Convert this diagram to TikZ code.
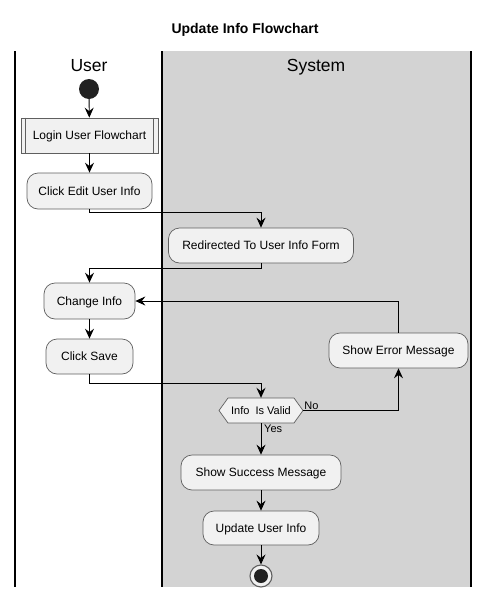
\documentclass[tikz,border=0pt]{standalone}
\usepackage{fontspec}
\setmainfont{Liberation Sans}
\usetikzlibrary{arrows.meta,calc}
\definecolor{boxfill}{HTML}{F1F1F1}
\definecolor{boxline}{HTML}{5F5F5F}
\definecolor{lanegray}{HTML}{D3D3D3}
\definecolor{dotcol}{HTML}{222222}
\begin{document}
\begin{tikzpicture}[x=1pt,y=-1pt,
  actbox/.style={draw=boxline,fill=boxfill,line width=0.7pt,rounded corners=11pt,
    inner sep=0pt,font=\fontsize{12}{14}\selectfont,text height=8.6pt,text depth=0pt},
  subbox/.style={draw=boxline,fill=boxfill,line width=0.7pt,
    inner sep=0pt,font=\fontsize{12}{14}\selectfont,text height=8.6pt,text depth=0pt},
  flow/.style={line width=0.9pt,-{Stealth[length=10pt,width=9pt,inset=3.5pt]}},
  lane/.style={line width=1.6pt},
  lbl/.style={font=\fontsize{11}{13}\selectfont,inner sep=1pt},
  hdr/.style={font=\fontsize{17.5}{20}\selectfont,anchor=base,inner sep=0pt}]
\useasboundingbox (0,0) rectangle (490,598);
% lanes
\fill[lanegray] (162,51) rectangle (471,587);
\draw[lane] (15,51) -- (15,587);
\draw[lane] (162,51) -- (162,587);
\draw[lane] (471,51) -- (471,587);
\node[font=\bfseries\fontsize{14}{16}\selectfont] (title) at (245,30) {Update Info Flowchart};
\node[hdr] (huser) at (89,71) {User};
\node[hdr] (hsys) at (316,71) {System};
% nodes
\node[circle,fill=dotcol,minimum size=20pt,inner sep=0pt] (start) at (89,89) {};
\node[subbox,minimum width=137pt,minimum height=35pt] (login) at (89.5,135.5) {Login User Flowchart};
\draw[boxline,line width=0.7pt] ($(login.north west)+(5,0)$) -- ($(login.south west)+(5,0)$);
\draw[boxline,line width=0.7pt] ($(login.north east)+(-5,0)$) -- ($(login.south east)+(-5,0)$);
\node[actbox,minimum width=125pt,minimum height=36pt] (edit) at (89.5,191) {Click Edit User Info};
\node[actbox,minimum width=185pt,minimum height=35pt] (redirect) at (261,245.5) {Redirected To User Info Form};
\node[actbox,minimum width=91pt,minimum height=36pt] (change) at (89.5,301) {Change Info};
\node[actbox,minimum width=87pt,minimum height=35pt] (save) at (89.5,356.5) {Click Save};
\node[actbox,minimum width=139pt,minimum height=35pt] (error) at (398.5,350.5) {Show Error Message};
\coordinate (valid) at (261,410.5);
\draw[boxline,fill=boxfill,line width=0.7pt]
  (219,410.5) -- (228,398) -- (294,398) -- (303,410.5) -- (294,423) -- (228,423) -- cycle;
\node[inner sep=0pt,minimum width=84pt,minimum height=25pt,font=\fontsize{11}{13}\selectfont,
  text height=7.9pt,text depth=0pt] (validtxt) at (valid) {Info\ \ Is Valid};
\node[actbox,minimum width=160pt,minimum height=35pt] (success) at (261,472.5) {Show Success Message};
\node[actbox,minimum width=116pt,minimum height=34pt] (update) at (261,528) {Update User Info};
\node[circle,draw=boxline,fill=boxfill,line width=1.1pt,minimum size=22pt,inner sep=0pt] (stop) at (261,576) {};
\node[circle,fill=dotcol,minimum size=14pt,inner sep=0pt] (stopdot) at (stop) {};
% connectors
\draw[flow] (start) -- (login);
\draw[flow] (login) -- (edit);
\draw[flow] (edit.south) -- ++(0,3) -| (redirect.north);
\draw[flow] (redirect.south) -- ++(0,5) -| (change.north);
\draw[flow] (change) -- (save);
\draw[flow] (save.south) -- ++(0,9) -| (validtxt.north);
\draw[flow] (validtxt.east) -| (error.south);
\node[lbl,anchor=south west] (nolbl) at (validtxt.east) {No};
\draw[flow] (error.north) |- (change.east);
\draw[flow] (validtxt.south) -- (success.north);
\node[lbl,anchor=north west] (yeslbl) at ($(validtxt.south)+(2,1)$) {Yes};
\draw[flow] (success) -- (update);
\draw[flow] (update) -- (stop);
\end{tikzpicture}
\end{document}
